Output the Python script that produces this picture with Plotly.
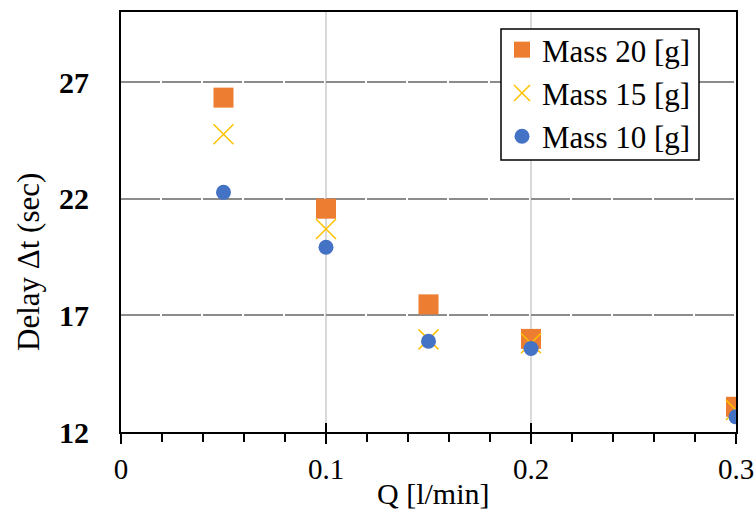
import plotly.graph_objects as go

q = [0.05, 0.10, 0.15, 0.20, 0.30]
mass20 = [26.33, 21.57, 17.47, 15.99, 13.08]
mass15 = [24.76, 20.70, 15.97, 15.80, 12.94]
mass10 = [22.27, 19.92, 15.89, 15.58, 12.65]
series_names = ["Mass 20 [g]", "Mass 15 [g]", "Mass 10 [g]"]
x_ticks = [0, 0.1, 0.2, 0.3]
x_tick_labels = ["0", "0.1", "0.2", "0.3"]
y_ticks = [12, 17, 22, 27]

SERIF = "Liberation Serif"
PL, PT, PW, PH = 121, 12, 615, 420  # plot area in pixels


def px_x(p):
    return (p - PL) / PW


def px_y(p):
    return (PT + PH - p) / PH


fig = go.Figure()
fig.add_trace(go.Scatter(x=q, y=mass20, mode="markers", name=series_names[0],
                         marker=dict(symbol="square", size=20, color="#ED7D31",
                                     line=dict(width=0))))
fig.add_trace(go.Scatter(x=q, y=mass15, mode="markers", name=series_names[1],
                         marker=dict(symbol="x-thin", size=20, color="#FFC000",
                                     line=dict(width=1.5, color="#FFC000"))))
fig.add_trace(go.Scatter(x=q, y=mass10, mode="markers", name=series_names[2],
                         marker=dict(symbol="circle", size=15, color="#4472C4",
                                     line=dict(width=0))))

# invisible trace on the overlay axis so it renders
fig.add_trace(go.Scatter(x=[0], y=[12], xaxis="x2", mode="markers",
                         marker=dict(opacity=0), showlegend=False, hoverinfo="skip"))

fig.update_layout(
    width=756, height=510,
    margin=dict(l=121, r=20, t=12, b=78, autoexpand=False),
    paper_bgcolor="white", plot_bgcolor="white",
    font=dict(family=SERIF, color="black"),
    showlegend=True,
    legend=dict(x=px_x(502), y=px_y(23), xanchor="left", yanchor="top",
                bgcolor="rgba(0,0,0,0)", borderwidth=0,
                font=dict(family=SERIF, size=31, color="black"),
                tracegroupgap=0, itemsizing="trace"),
    shapes=[dict(type="rect", xref="paper", yref="paper", layer="above",
                 x0=px_x(501), x1=px_x(699), y0=px_y(160), y1=px_y(29),
                 fillcolor="white", line=dict(color="black", width=1.5))],
    xaxis=dict(range=[0, 0.3], tickvals=x_ticks, ticktext=x_tick_labels,
               showgrid=True, gridcolor="#D9D9D9", gridwidth=1.5,
               showline=True, linecolor="black", linewidth=2, mirror=True,
               ticks="outside", ticklen=10, tickwidth=2, tickcolor="black",
               minor=dict(dtick=0.02, tick0=0, ticks="outside", ticklen=8,
                          tickwidth=1.5, tickcolor="black", showgrid=False),
               tickfont=dict(family=SERIF, size=29, color="black"),
               zeroline=False, fixedrange=True, automargin=False),
    xaxis2=dict(range=[0, 0.3], overlaying="x", anchor="y", side="bottom",
                tickvals=x_ticks, ticks="inside", ticklen=9, tickwidth=2,
                tickcolor="black", showticklabels=False, showgrid=False,
                showline=False, zeroline=False),
    yaxis=dict(range=[12, 30], tickvals=y_ticks,
               showgrid=True, gridcolor="#8C8C8C", gridwidth=1.5, griddash="39px,2px",
               showline=True, linecolor="black", linewidth=2, mirror=True,
               ticks="", ticklabelstandoff=24,
               tickfont=dict(family=SERIF, size=30, color="black", weight="bold"),
               zeroline=False, fixedrange=True, automargin=False),
    annotations=[
        dict(text="Q [l/min]", xref="paper", yref="paper",
             x=px_x(433), y=px_y(494),
             xanchor="center", yanchor="middle", showarrow=False,
             font=dict(family=SERIF, size=30, color="black")),
        dict(text="Delay Δt (sec)", xref="paper", yref="paper",
             x=px_x(28), y=px_y(262), textangle=-90,
             xanchor="center", yanchor="middle", showarrow=False,
             font=dict(family=SERIF, size=31, color="black")),
    ],
)

fig.write_html("out.html", config={"displayModeBar": False},
               post_script="document.body.style.margin='0';document.body.style.padding='0';")
